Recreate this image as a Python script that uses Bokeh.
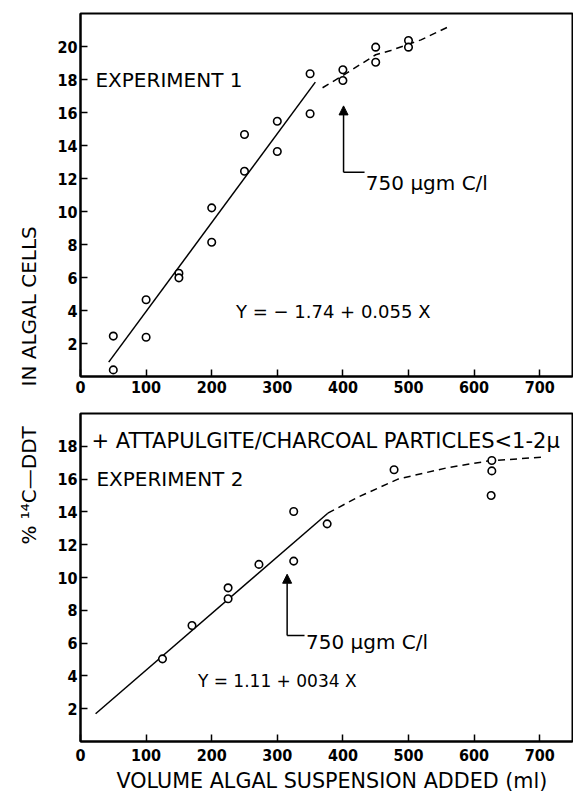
from bokeh.plotting import figure
from bokeh.models import Range1d, FixedTicker, Label, Arrow, NormalHead, Title
from bokeh.layouts import column
from bokeh.embed import file_html
from bokeh.resources import INLINE

# ---------------- data ----------------
x_ticks = [0, 100, 200, 300, 400, 500, 600, 700]
y_ticks_1 = [2, 4, 6, 8, 10, 12, 14, 16, 18, 20]
y_ticks_2 = [2, 4, 6, 8, 10, 12, 14, 16, 18]

# Experiment 1 observations
exp1_x = [50, 50, 100, 100, 150, 150, 200, 200, 250, 250, 300, 300,
          350, 350, 400, 400, 450, 450, 500, 500]
exp1_y = [2.45, 0.4, 4.65, 2.38, 6.26, 5.98, 10.22, 8.14, 14.67, 12.44, 15.47, 13.64,
          18.35, 15.92, 18.59, 17.94, 19.96, 19.05, 20.36, 19.96]
fit1_x = [43, 358]
fit1_y = [0.87, 17.84]
curve1_x = [369, 400, 450, 473, 519, 565]
curve1_y = [17.5, 18.24, 19.5, 19.76, 20.4, 21.27]

# Experiment 2 observations
exp2_x = [125, 170, 225, 225, 272, 325, 325, 376, 478, 627, 627, 626]
exp2_y = [5.04, 7.07, 9.37, 8.7, 10.8, 14.02, 11.0, 13.27, 16.57, 17.13, 16.5, 15.0]
fit2_x = [23, 377]
fit2_y = [1.69, 13.92]
curve2_x = [377, 423, 484, 560, 621, 704]
curve2_y = [13.92, 14.9, 16.0, 16.7, 17.1, 17.34]

# annotation arrows (x, y_start, y_tip, x_hook_end)
arrow1 = (401, 12.38, 16.4, 433)
arrow2 = (315, 6.46, 10.2, 341.5)

TXT = "DejaVu Sans"
TICKF = "DejaVu Sans Condensed"


def base_fig(height, ymax, yticks, b_top, b_bottom, x_standoff):
    p = figure(width=573, height=height, output_backend="svg", toolbar_location=None,
               x_range=Range1d(0, 750), y_range=Range1d(0, ymax),
               min_border_left=79, min_border_right=1,
               min_border_top=b_top, min_border_bottom=b_bottom)
    p.grid.visible = False
    p.outline_line_color = "black"
    p.outline_line_width = 2
    p.background_fill_color = "white"
    p.border_fill_color = "white"
    for ax, ticks, so in ((p.xaxis[0], x_ticks, x_standoff), (p.yaxis[0], yticks, 3)):
        ax.ticker = FixedTicker(ticks=ticks)
        ax.axis_line_width = 2
        ax.axis_line_color = "black"
        ax.major_tick_in = 7
        ax.major_tick_out = 0
        ax.major_tick_line_width = 1.5
        ax.minor_tick_line_color = None
        ax.major_label_text_font = TICKF
        ax.major_label_text_font_size = "16px"
        ax.major_label_text_font_style = "bold"
        ax.major_label_text_color = "black"
        ax.major_label_standoff = so
    return p


def add_label(p, x, y, text, size="20px"):
    p.add_layout(Label(x=x, y=y, text=text, text_font=TXT, text_font_size=size,
                       text_color="black", text_align="left",
                       text_baseline="alphabetic"))


def add_title(p, text, place, align, offset, standoff, size="20px"):
    p.add_layout(Title(text=text, align=align, offset=offset, standoff=standoff,
                       text_font=TXT, text_font_size=size, text_font_style="normal",
                       text_color="black"), place)


# ---------------- top panel ----------------
p1 = base_fig(404, 22, y_ticks_1, 13, 28, 4)
p1.line(fit1_x, fit1_y, line_color="black", line_width=1.5)
p1.line(curve1_x, curve1_y, line_color="black", line_width=1.5, line_dash="7 5")
p1.scatter(exp1_x, exp1_y, size=7.5, marker="circle", fill_color="white",
           line_color="black", line_width=1.6)
p1.line([arrow1[0], arrow1[3]], [arrow1[1], arrow1[1]], line_color="black", line_width=1.5)
p1.add_layout(Arrow(x_start=arrow1[0], y_start=arrow1[1], x_end=arrow1[0], y_end=arrow1[2],
                    line_width=1.5, end=NormalHead(size=9, fill_color="black",
                                                   line_color="black", line_width=1)))
add_label(p1, 22.8, 17.94, "EXPERIMENT  1")
add_label(p1, 237, 3.94, "Y = − 1.74 + 0.055 X", size="18px")
add_label(p1, 435, 11.7, "750 µgm C/l")
add_title(p1, "IN ALGAL CELLS", "left", "left", -10, 28)

# ---------------- bottom panel ----------------
p2 = base_fig(394, 20, y_ticks_2, 9, 57, 7)
p2.line(fit2_x, fit2_y, line_color="black", line_width=1.5)
p2.line(curve2_x, curve2_y, line_color="black", line_width=1.5, line_dash="7 5")
p2.scatter(exp2_x, exp2_y, size=7.5, marker="circle", fill_color="white",
           line_color="black", line_width=1.6)
p2.line([arrow2[0], arrow2[3]], [arrow2[1], arrow2[1]], line_color="black", line_width=1.5)
p2.add_layout(Arrow(x_start=arrow2[0], y_start=arrow2[1], x_end=arrow2[0], y_end=arrow2[2],
                    line_width=1.5, end=NormalHead(size=9, fill_color="black",
                                                   line_color="black", line_width=1)))
add_label(p2, 16.7, 18.35, "+ ATTAPULGITE/CHARCOAL PARTICLES<1-2µ", size="21px")
add_label(p2, 24.3, 16.0, "EXPERIMENT 2")
add_label(p2, 179, 3.66, "Y = 1.11 + 0034 X", size="17px")
add_label(p2, 343.7, 6.05, "750 µgm C/l")
add_title(p2, "%   ¹⁴C—DDT", "left", "right", 0, 28)
add_title(p2, "VOLUME ALGAL SUSPENSION  ADDED (ml)", "below", "left", 36, 7, size="20.7px")

layout = column(p1, p2, spacing=0)
open("out.html", "w").write(file_html(layout, INLINE))
